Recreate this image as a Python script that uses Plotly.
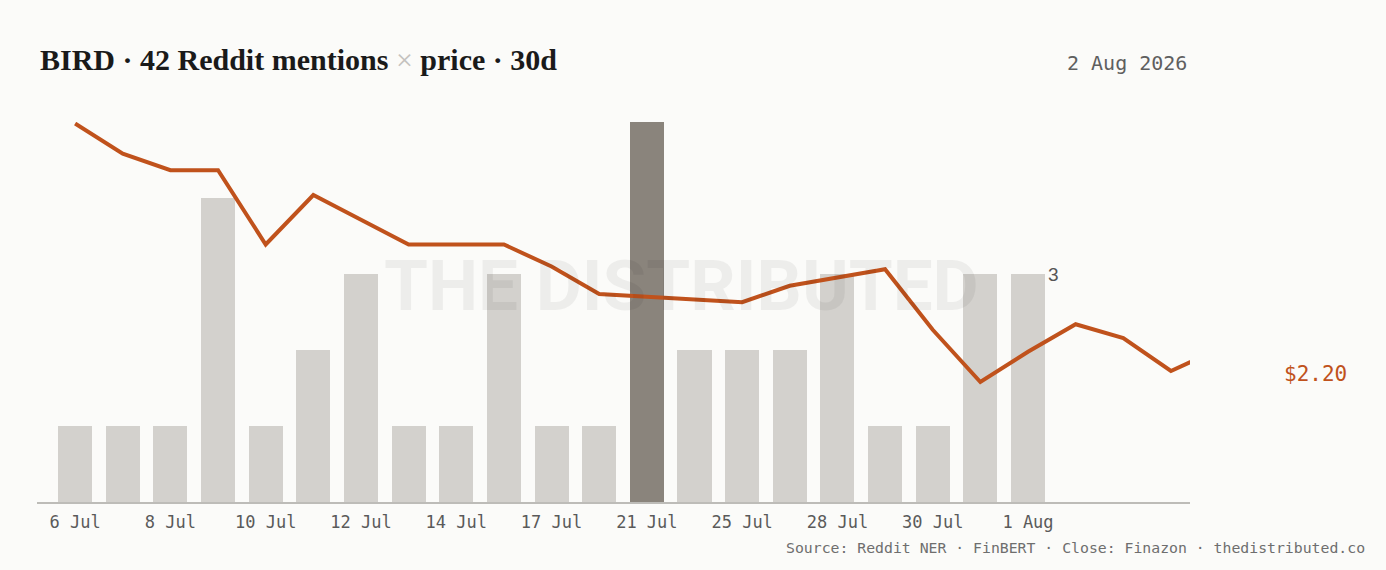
import plotly.graph_objects as go

# ---- data ----
dates = ["6 Jul", "7 Jul", "8 Jul", "9 Jul", "10 Jul", "11 Jul", "12 Jul", "13 Jul",
         "14 Jul", "15 Jul", "17 Jul", "19 Jul", "21 Jul", "23 Jul", "25 Jul", "27 Jul",
         "28 Jul", "29 Jul", "30 Jul", "31 Jul", "1 Aug"]
mentions = [1, 1, 1, 4, 1, 2, 3, 1, 1, 3, 1, 1, 5, 2, 2, 2, 3, 1, 1, 3, 3]
price = [3.10, 2.99, 2.93, 2.93, 2.66, 2.84, 2.75, 2.66, 2.66, 2.66, 2.58, 2.48,
         2.47, 2.46, 2.45, 2.51, 2.54, 2.57, 2.35, 2.16, 2.27, 2.37, 2.32, 2.20, 2.28]
tick_idx = list(range(0, len(dates), 2))
tick_text = [dates[i] for i in tick_idx]
last_close_label = "$2.20"
last_close_value = 2.20

# ---- styling ----
BG = "#fbfbf9"
BAR = "#d3d1cd"
BAR_HI = "#8a847c"
RUST = "#c0521c"
MONO = "DejaVu Sans Mono"

W, H = 1386, 570
L, R, T, B = 37, 196, 122, 68
PW, PH = W - L - R, H - T - B


def px(x):
    return (x - L) / PW


def py(y):
    return (H - B - y) / PH


peak = max(mentions)
bar_colors = [BAR_HI if v == peak else BAR for v in mentions]

fig = go.Figure()
fig.add_trace(go.Bar(
    x=list(range(len(mentions))), y=mentions, marker=dict(color=bar_colors, line=dict(width=0)),
    width=0.714, hoverinfo="skip", yaxis="y",
))
fig.add_trace(go.Scatter(
    x=list(range(len(price))), y=price, mode="lines",
    line=dict(color=RUST, width=4), yaxis="y2", hoverinfo="skip",
))

annotations = [
    dict(text="BIRD · 42 Reddit mentions <span style='color:#c4c2be;font-weight:normal'>×</span> price · 30d",
         xref="paper", yref="paper", x=px(38), y=py(60), xanchor="left", yanchor="middle",
         showarrow=False, font=dict(family="Liberation Serif", size=30, color="#1a1a1a", weight="bold")),
    dict(text="2 Aug 2026", xref="paper", yref="paper", x=px(1189), y=py(63),
         xanchor="right", yanchor="middle", showarrow=False,
         font=dict(family=MONO, size=20, color="#5f5f5f")),
    dict(text="Source: Reddit NER · FinBERT · Close: Finazon · thedistributed.co",
         xref="paper", yref="paper", x=px(1367), y=py(547), xanchor="right", yanchor="middle",
         showarrow=False, font=dict(family=MONO, size=14.8, color="#6e6e6e")),
    dict(text=last_close_label, xref="paper", yref="y2", x=px(1349), y=last_close_value,
         yshift=-3, xanchor="right", yanchor="middle", showarrow=False,
         font=dict(family=MONO, size=21, color=RUST, weight="normal")),
    dict(text=str(mentions[-1]), xref="x", yref="y", x=len(mentions) - 1, y=mentions[-1],
         xshift=18, xanchor="left", yanchor="middle", showarrow=False,
         font=dict(family="Liberation Sans", size=19, color="#555555")),
    dict(text="THE DISTRIBUTED", xref="paper", yref="paper", x=px(681), y=py(285),
         xanchor="center", yanchor="middle", showarrow=False,
         font=dict(family="Roboto", size=71, color="rgba(0,0,0,0.055)", weight="bold")),
]

fig.update_layout(
    width=W, height=H,
    margin=dict(l=L, r=R, t=T, b=B, pad=0),
    paper_bgcolor=BG, plot_bgcolor=BG,
    showlegend=False, bargap=0,
    xaxis=dict(range=[-0.8, 23.4], tickmode="array", tickvals=tick_idx, ticktext=tick_text,
               showgrid=False, zeroline=False, showline=True, linecolor="#bdbcb8", linewidth=1.5,
               ticks="", ticklabelstandoff=4,
               tickfont=dict(family=MONO, size=17, color="#5a5a5a"), fixedrange=True),
    yaxis=dict(range=[0, 5], visible=False, showgrid=False, zeroline=False, fixedrange=True),
    yaxis2=dict(range=[1.7236, 3.1055], overlaying="y", visible=False, showgrid=False,
                zeroline=False, fixedrange=True),
    annotations=annotations,
)

fig.write_html(
    "out.html",
    config={"displayModeBar": False},
    post_script="document.body.style.margin='0';document.body.style.background='%s';" % BG,
)
